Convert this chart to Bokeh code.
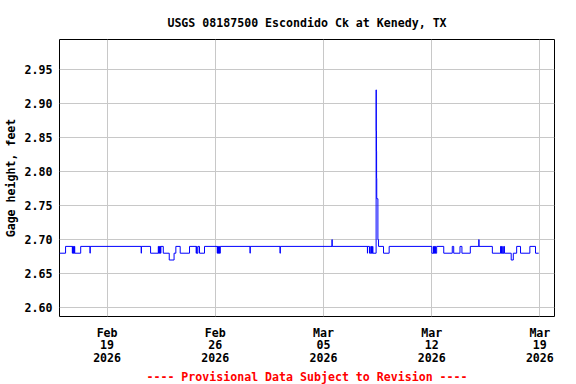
import pandas as pd
from bokeh.plotting import figure
from bokeh.models import (Range1d, FixedTicker, DatetimeTickFormatter, Title,
                          ColumnDataSource, PrintfTickFormatter)
from bokeh.embed import file_html
from bokeh.resources import INLINE

title_text = "USGS 08187500 Escondido Ck at Kenedy, TX"
y_label = "Gage height, feet"
footer_text = "---- Provisional Data Subject to Revision ----"

# change points of the 15-minute gage height record (value holds until next point)
times = [
    "2026-02-15 22:00", "2026-02-16 07:30", "2026-02-16 18:00", "2026-02-16 18:30",
    "2026-02-16 19:00", "2026-02-16 20:00", "2026-02-16 20:30", "2026-02-16 21:15",
    "2026-02-16 21:45", "2026-02-17 07:00", "2026-02-17 21:30", "2026-02-17 21:45",
    "2026-02-21 05:00", "2026-02-21 05:15", "2026-02-21 19:30", "2026-02-22 07:30",
    "2026-02-22 08:00", "2026-02-22 09:00", "2026-02-22 09:30", "2026-02-22 10:30",
    "2026-02-22 11:00", "2026-02-22 11:30", "2026-02-22 15:15", "2026-02-23 00:30",
    "2026-02-23 08:00", "2026-02-23 10:45", "2026-02-23 17:30", "2026-02-24 08:00",
    "2026-02-24 18:15", "2026-02-24 19:00", "2026-02-24 19:30", "2026-02-24 21:00",
    "2026-02-24 23:30", "2026-02-25 07:15", "2026-02-26 03:00", "2026-02-26 03:30",
    "2026-02-26 04:00", "2026-02-26 05:00", "2026-02-26 05:30", "2026-02-26 06:30",
    "2026-02-26 07:00", "2026-02-26 07:45", "2026-02-28 06:00", "2026-02-28 06:15",
    "2026-03-02 04:30", "2026-03-02 05:00", "2026-03-05 13:15", "2026-03-05 13:30",
    "2026-03-07 20:15", "2026-03-07 20:30", "2026-03-07 23:30", "2026-03-08 01:30",
    "2026-03-08 02:00", "2026-03-08 02:45", "2026-03-08 03:15", "2026-03-08 04:15",
    "2026-03-08 04:45", "2026-03-08 09:45", "2026-03-08 10:00", "2026-03-08 10:15",
    "2026-03-08 10:30", "2026-03-08 10:45", "2026-03-08 12:30", "2026-03-08 13:30",
    "2026-03-08 21:15", "2026-03-09 06:00", "2026-03-12 00:15", "2026-03-12 02:45",
    "2026-03-12 03:00", "2026-03-12 04:00", "2026-03-12 04:30", "2026-03-12 05:30",
    "2026-03-12 06:00", "2026-03-12 07:45", "2026-03-12 18:45", "2026-03-13 08:00",
    "2026-03-13 10:15", "2026-03-13 20:00", "2026-03-13 23:00", "2026-03-14 12:00",
    "2026-03-15 01:15", "2026-03-15 01:30", "2026-03-15 22:15", "2026-03-16 11:00",
    "2026-03-16 11:30", "2026-03-16 12:30", "2026-03-16 13:00", "2026-03-16 14:30",
    "2026-03-16 15:00", "2026-03-16 16:30", "2026-03-16 17:00", "2026-03-17 03:30",
    "2026-03-17 06:45", "2026-03-17 12:00", "2026-03-17 18:00", "2026-03-18 08:30",
    "2026-03-18 17:15", "2026-03-18 22:15",
]
gage_ft = [
    2.68, 2.69, 2.68, 2.69,
    2.68, 2.69, 2.68, 2.69,
    2.68, 2.69, 2.68, 2.69,
    2.68, 2.69, 2.68, 2.69,
    2.68, 2.69, 2.68, 2.69,
    2.68, 2.69, 2.68, 2.67,
    2.68, 2.69, 2.68, 2.69,
    2.68, 2.69, 2.68, 2.69,
    2.68, 2.69, 2.68, 2.69,
    2.68, 2.69, 2.68, 2.69,
    2.68, 2.69, 2.68, 2.69,
    2.68, 2.69, 2.70, 2.69,
    2.68, 2.69, 2.68, 2.69,
    2.68, 2.69, 2.68, 2.69,
    2.68, 2.92, 2.86, 2.83,
    2.79, 2.76, 2.70, 2.69,
    2.68, 2.69, 2.68, 2.69,
    2.68, 2.69, 2.68, 2.69,
    2.68, 2.69, 2.68, 2.69,
    2.68, 2.69, 2.68, 2.69,
    2.70, 2.69, 2.68, 2.69,
    2.68, 2.69, 2.68, 2.69,
    2.68, 2.69, 2.68, 2.67,
    2.68, 2.69, 2.68, 2.69,
    2.68, 2.68,
]

x_start = "2026-02-15 22:05"
x_end = "2026-03-19 22:45"
y_start, y_end = 2.587, 2.994
x_tick_dates = ["2026-02-19", "2026-02-26", "2026-03-05", "2026-03-12", "2026-03-19"]
y_ticks = [2.60, 2.65, 2.70, 2.75, 2.80, 2.85, 2.90, 2.95]

FONT = "DejaVu Sans Mono"
FS = "11.6px"

src = ColumnDataSource(dict(t=pd.to_datetime(times), v=gage_ft))

p = figure(width=576, height=384, x_axis_type="datetime",
           x_range=Range1d(pd.Timestamp(x_start), pd.Timestamp(x_end)),
           y_range=Range1d(y_start, y_end),
           output_backend="svg", toolbar_location=None,
           min_border_left=58, min_border_right=22,
           min_border_top=39, min_border_bottom=68)

p.step("t", "v", source=src, mode="after", line_color="#0000ff", line_width=1)

xt = [pd.Timestamp(d).value / 1e6 for d in x_tick_dates]
p.xaxis.ticker = FixedTicker(ticks=xt)
fmt = "%b\n%d\n%Y"
p.xaxis.formatter = DatetimeTickFormatter(
    microseconds=fmt, milliseconds=fmt, seconds=fmt, minsec=fmt, minutes=fmt,
    hourmin=fmt, hours=fmt, days=fmt, months=fmt, years=fmt)
p.yaxis.ticker = FixedTicker(ticks=y_ticks)
p.yaxis.formatter = PrintfTickFormatter(format="%.2f")
p.xgrid.ticker = FixedTicker(ticks=xt)
p.ygrid.ticker = FixedTicker(ticks=y_ticks)

for ax in (p.xaxis[0], p.yaxis[0]):
    ax.axis_line_color = None
    ax.major_tick_line_color = None
    ax.minor_tick_line_color = None
    ax.major_tick_out = 0
    ax.major_tick_in = 0
    ax.major_label_text_font = FONT
    ax.major_label_text_font_style = "bold"
    ax.major_label_text_font_size = FS
    ax.major_label_text_color = "black"

p.xaxis.major_label_standoff = 9
p.xaxis.major_label_text_line_height = 0.9
p.yaxis.major_label_standoff = 7
p.yaxis.axis_label = y_label
p.yaxis.axis_label_text_font = FONT
p.yaxis.axis_label_text_font_style = "bold"
p.yaxis.axis_label_text_font_size = FS
p.yaxis.axis_label_text_color = "black"
p.yaxis.axis_label_standoff = 4

for g in (p.xgrid[0], p.ygrid[0]):
    g.grid_line_color = "#c8c8c8"
    g.grid_line_width = 1

p.outline_line_color = "black"
p.outline_line_width = 1
p.outline_line_alpha = 1
p.background_fill_color = "white"
p.border_fill_color = "white"

p.title.text = title_text
p.title.align = "center"
p.title.text_font = FONT
p.title.text_font_style = "bold"
p.title.text_font_size = FS
p.title.text_color = "black"
p.title.standoff = 20

footer = Title(text=footer_text, align="center", text_font=FONT,
               text_font_style="bold", text_font_size=FS, text_color="#ff0000",
               standoff=1)
p.add_layout(footer, "below")

open("out.html", "w").write(file_html(p, INLINE))
